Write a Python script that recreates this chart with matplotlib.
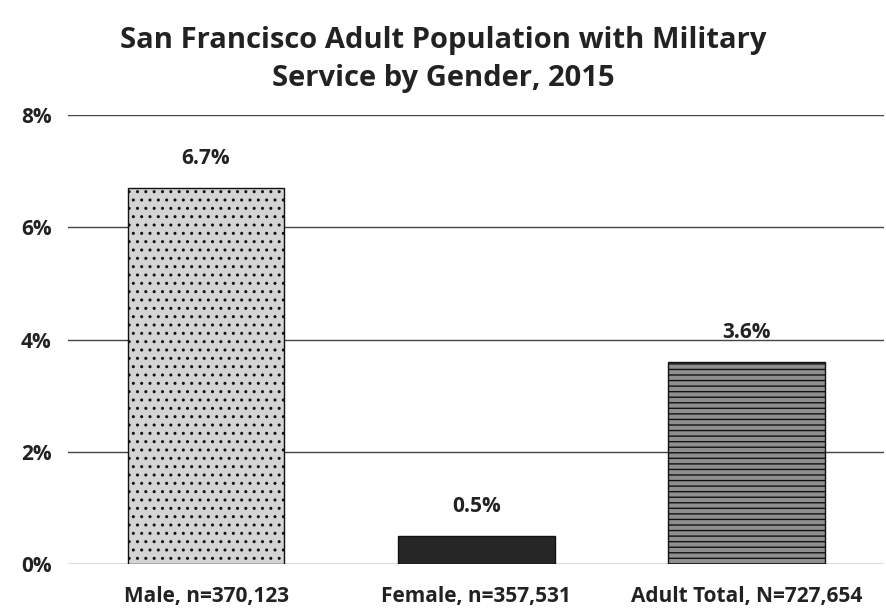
import matplotlib
matplotlib.use("Agg")
import matplotlib.pyplot as plt

categories = ["Male, n=370,123", "Female, n=357,531", "Adult Total, N=727,654"]
values = [6.7, 0.5, 3.6]
labels = ["6.7%", "0.5%", "3.6%"]
yticks = [0, 2, 4, 6, 8]
ytick_labels = ["0%", "2%", "4%", "6%", "8%"]
title = "San Francisco Adult Population with Military\nService by Gender, 2015"

plt.rcParams['font.family'] = ['Open Sans', 'DejaVu Sans']

fig = plt.figure(figsize=(8.86, 6.16), dpi=100)
ax = fig.add_axes([0.077, 0.084, 0.921, 0.729])

colors = ["#d4d4d4", "#262626", "#8f8f8f"]
x = list(range(len(categories)))
bars = ax.bar(x, values, width=0.58, color=colors, edgecolor="#111111", linewidth=1.0, zorder=3)
bars[0].set_hatch("..")
bars[2].set_hatch("---")

for xi, v, lab in zip(x, values, labels):
    ax.text(xi, v + 0.35, lab, ha="center", va="bottom", fontsize=15, fontweight="bold", color="#222222")

ax.set_xlim(-0.51, 2.51)
ax.set_ylim(0, 8)
ax.set_yticks(yticks)
ax.set_yticklabels(ytick_labels, fontsize=15, fontweight="bold", color="#222222")
ax.set_xticks(x)
ax.set_xticklabels(categories, fontsize=15, fontweight="bold", color="#222222")
ax.tick_params(axis="x", length=0, pad=16)
ax.tick_params(axis="y", length=0, pad=12)
ax.yaxis.grid(True, color="#444444", linewidth=1.0, zorder=0)
for s in ax.spines.values():
    s.set_visible(False)

fig.text(0.5, 0.958, title, ha="center", va="top", fontsize=21, fontweight="bold",
         color="#222222", linespacing=1.4)

fig.savefig("out.png", dpi=100)
